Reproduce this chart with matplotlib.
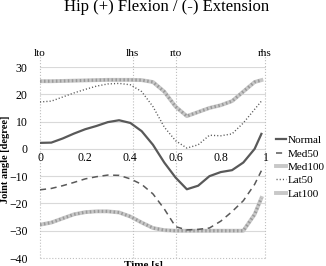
import matplotlib
matplotlib.use("Agg")
import matplotlib.pyplot as plt

plt.rcParams['font.family'] = ['Liberation Serif', 'DejaVu Serif']

# Czas [s] i kąty stawu dla każdej serii
time_s = [0, .05, .1, .15, .2, .25, .3, .35, .4, .45, .5, .55, .6, .65, .7, .75, .8, .85, .9, .95, .98]
normal = [2.2, 2.3, 3.8, 5.6, 7.2, 8.4, 9.8, 10.5, 9.5, 6.5, 1.5, -5, -10.5, -14.8, -13.5, -10, -8.5, -7.8, -5, 0, 5.5]
med50 = [-15, -14.5, -13.5, -12.3, -11, -10.2, -9.6, -9.7, -11, -13, -16.5, -22, -28.5, -29.7, -29.5, -29, -26.5, -23, -19, -13, -8]
med100 = [-27.8, -27, -25.5, -24, -23.2, -22.9, -22.9, -23.3, -24.8, -27, -29, -29.8, -30, -30, -30, -30, -30, -30, -30, -24, -18]
lat50 = [17.2, 17.5, 19, 20.5, 21.8, 23, 23.8, 24, 23.5, 21, 15.5, 8, 3, 0.3, 1.5, 5, 4.8, 5.5, 9.5, 14.5, 17.5]
lat100 = [24.8, 24.8, 24.9, 25, 25.1, 25.2, 25.3, 25.3, 25.3, 25.2, 24.5, 21, 15.5, 12, 13.5, 15, 16, 17.5, 21, 24.5, 25.2]

# Zdarzenia chodu
event_names = ['lto', 'lhs', 'rto', 'rhs']
event_times = [0, 0.41, 0.6, 0.995]

x_ticks = [0, 0.2, 0.4, 0.6, 0.8, 1]
x_tick_labels = ['0', '0.2', '0.4', '0.6', '0.8', '1']
y_ticks = [-40, -30, -20, -10, 0, 10, 20, 30]

fig = plt.figure(figsize=(3.26, 2.66), dpi=100)
ax = fig.add_axes([0.1227, 0.030, 0.693, 0.718])
ax.set_xlim(0, 1)
ax.set_ylim(-40, 30)

# Siatka pozioma
for yv in y_ticks[1:]:
    ax.plot([0, event_times[-1]], [yv, yv], color='#d9d9d9', lw=0.8, zorder=1)
ax.plot([0, event_times[-1]], [-40, -40], color='#bfbfbf', lw=0.8, ls=':', zorder=1, clip_on=False)

# Linie zdarzeń
for name, t in zip(event_names, event_times):
    ax.plot([t, t], [-40, 36], color='#bfbfbf', lw=0.8, ls=':', clip_on=False, zorder=1)
    ax.text(t, 34.8, name, ha='center', va='center', fontsize=8)

# Serie
ax.plot(time_s, normal, color='#595959', lw=1.6, label='Normal', zorder=4)
ax.plot(time_s, med50, color='#595959', lw=1.1, dashes=(4, 3), label='Med50', zorder=4)
ax.plot(time_s, med100, color='#c8c8c8', lw=2.8, label='Med100', zorder=3)
ax.plot(time_s, med100, color='#9a9a9a', lw=2.2, dashes=(0.5, 0.8), zorder=3)
ax.plot(time_s, lat50, color='#595959', lw=1.0, dashes=(0.8, 1.5), label='Lat50', zorder=4)
ax.plot(time_s, lat100, color='#c8c8c8', lw=2.8, label='Lat100', zorder=3)
ax.plot(time_s, lat100, color='#9a9a9a', lw=2.2, dashes=(0.5, 0.8), zorder=3)

for s in ax.spines.values():
    s.set_visible(False)
ax.spines['bottom'].set_position(('data', 0))
ax.set_xticks(x_ticks)
ax.set_xticklabels(x_tick_labels)
ax.set_yticks(y_ticks)
ax.tick_params(axis='both', length=0, labelsize=8.5)
ax.tick_params(axis='y', pad=9)
ax.tick_params(axis='x', pad=2)

fig.text(0.018, 0.40, 'Joint angle [degree]', rotation=90, ha='center', va='center',
         fontsize=7.5, fontweight='bold')
fig.text(0.44, 0.019, 'Time [s]', ha='center', va='top', fontsize=8, fontweight='bold')
fig.text(0.512, (266 - 11) / 266, 'Hip (+) Flexion / (-) Extension', ha='center',
         va='baseline', fontsize=12)

ax.legend(loc='upper left', bbox_to_anchor=(272 / 326, (266 - 131) / 266),
          bbox_transform=fig.transFigure, frameon=False, fontsize=8,
          handlelength=0.9, handletextpad=0.15, labelspacing=0.32, borderaxespad=0)

fig.savefig('out.png', dpi=100)
